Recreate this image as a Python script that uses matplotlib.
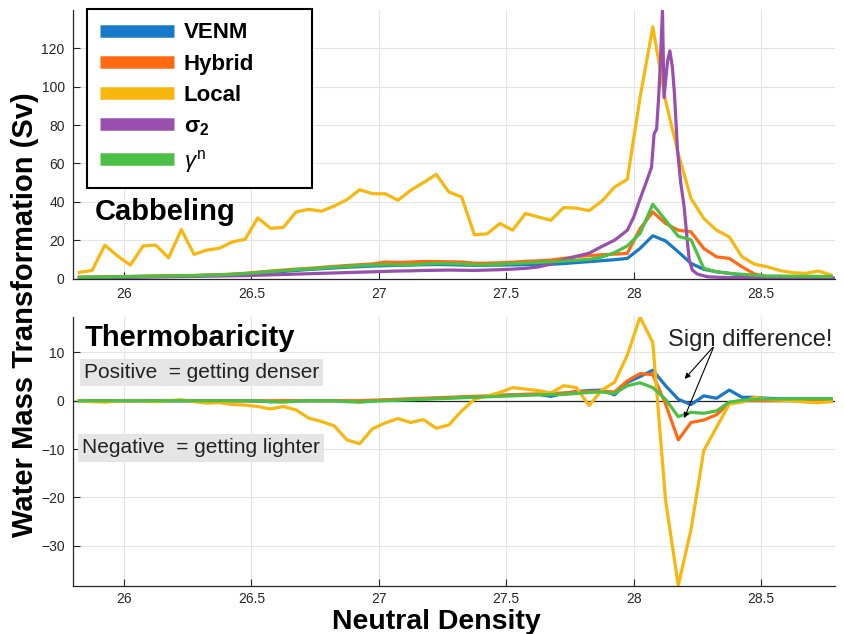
import matplotlib
matplotlib.use('Agg')
import matplotlib.pyplot as plt
from matplotlib.lines import Line2D
import numpy as np

plt.rcParams['font.family'] = ['Liberation Sans', 'DejaVu Sans']
plt.rcParams['mathtext.fontset'] = 'custom'
plt.rcParams['mathtext.rm'] = 'Liberation Sans'
plt.rcParams['mathtext.it'] = 'Liberation Sans:italic'
plt.rcParams['mathtext.bf'] = 'Liberation Sans:bold'

# neutral density bin centres (0.05 bins)
density = np.round(np.arange(25.825, 28.8, 0.05), 3)

# --- cabbeling (Sv) ---
cab_venm = [0.6, 0.7, 0.8, 0.9, 1.0, 1.1, 1.2, 1.3, 1.4, 1.5,
            1.7, 1.9, 2.1, 2.4, 2.8, 3.2, 3.7, 4.2, 4.7, 5.1,
            5.5, 5.9, 6.2, 6.5, 6.7, 6.9, 7.0, 7.2, 7.3, 7.2,
            7.0, 6.9, 6.9, 7.0, 7.1, 7.2, 7.3, 7.4, 7.8, 8.3,
            8.8, 9.3, 9.8, 10.5, 15.7, 22.3, 19.6, 13.9, 7.9, 4.8,
            3.5, 2.7, 1.7, 0.9, 0.6, 0.5, 0.4, 0.4, 0.3, 0.3]
cab_hybrid = [0.7, 0.8, 0.9, 1.0, 1.1, 1.2, 1.3, 1.4, 1.5, 1.6,
              1.8, 2.0, 2.3, 2.7, 3.3, 3.9, 4.4, 4.9, 5.3, 5.8,
              6.3, 6.8, 7.2, 7.6, 8.6, 8.4, 8.6, 8.9, 8.9, 8.7,
              8.6, 8.0, 8.0, 8.2, 8.5, 9.0, 9.2, 9.6, 10.5, 11.3,
              12.0, 12.4, 12.7, 13.1, 26.0, 34.7, 28.7, 25.2, 24.3, 15.7,
              11.3, 10.5, 6.1, 2.3, 0.9, 0.6, 0.5, 0.4, 0.4, 0.3]
cab_local = [3.2, 4.2, 17.4, 11.7, 7.0, 17.0, 17.4, 10.8, 25.5, 12.6,
             14.8, 15.8, 19.1, 20.4, 31.6, 26.2, 26.6, 34.7, 36.1, 35.1,
             37.8, 41.1, 46.3, 44.2, 44.2, 40.8, 46.0, 50.0, 54.3, 45.1,
             42.5, 22.8, 23.3, 28.7, 25.2, 33.9, 32.1, 30.4, 37.0, 36.7,
             35.4, 40.3, 47.7, 51.7, 94.4, 131.2, 92.7, 65.0, 41.7, 31.3,
             25.2, 21.7, 11.3, 7.4, 6.1, 4.1, 3.0, 2.7, 3.9, 1.8]
cab_gamma = [0.6, 0.7, 0.8, 0.9, 1.0, 1.1, 1.2, 1.3, 1.4, 1.5,
             1.7, 1.9, 2.2, 2.6, 3.1, 3.6, 4.1, 4.6, 5.0, 5.4,
             5.9, 6.3, 6.7, 7.0, 7.2, 7.1, 7.2, 7.6, 7.9, 7.8,
             7.6, 7.2, 7.2, 7.5, 7.8, 8.1, 8.4, 8.8, 9.1, 9.5,
             10.0, 11.2, 13.5, 17.0, 23.5, 38.7, 30.4, 22.0, 20.2, 5.3,
             3.5, 2.7, 2.2, 1.7, 1.3, 1.3, 1.2, 1.2, 1.1, 1.1]

# sigma_2 is on a finer grid around the peak
sig2_density = [25.825, 25.875, 25.925, 25.975, 26.025, 26.075, 26.125, 26.175, 26.225, 26.275,
                26.325, 26.375, 26.425, 26.475, 26.525, 26.575, 26.625, 26.675, 26.725, 26.775,
                26.825, 26.875, 26.925, 26.975, 27.025, 27.075, 27.125, 27.175, 27.225, 27.275,
                27.325, 27.375, 27.425, 27.475, 27.525, 27.575, 27.625, 27.675, 27.725, 27.775,
                27.825, 27.875, 27.925, 27.95, 27.975, 28.0, 28.025, 28.05, 28.07, 28.08,
                28.09, 28.097, 28.104, 28.109, 28.113, 28.119, 28.133, 28.142, 28.152, 28.16,
                28.172, 28.185, 28.198, 28.21, 28.218, 28.23, 28.25, 28.29, 28.34, 28.45,
                28.6, 28.8]
cab_sig2 = [0.2, 0.3, 0.4, 0.5, 0.6, 0.7, 0.8, 0.9, 1.0, 1.1,
            1.2, 1.3, 1.4, 1.5, 1.7, 1.9, 2.1, 2.3, 2.5, 2.7,
            2.9, 3.1, 3.3, 3.5, 3.7, 3.9, 4.0, 4.2, 4.3, 4.4,
            4.3, 4.2, 4.4, 4.6, 4.9, 5.3, 6.0, 7.5, 9.8, 11.6,
            13.2, 16.7, 20.0, 22.5, 25.2, 32.0, 41.5, 50.5, 58.0, 75.4,
            78.0, 92.7, 110.0, 127.4, 139.5, 94.4, 113.5, 118.7, 110.0, 96.2,
            66.8, 49.5, 37.3, 20.0, 9.6, 4.4, 2.3, 0.9, 0.6, 0.4,
            0.3, 0.3]

# --- thermobaricity (Sv) ---
tb_venm = [0, 0, 0, 0, 0, 0, 0, 0, 0, 0,
           0, 0, 0, 0, -0.1, -0.2, -0.1, 0, 0, 0,
           0, -0.1, -0.2, 0, 0.1, 0.2, 0.3, 0.4, 0.5, 0.6,
           0.7, 0.8, 0.9, 1.1, 1.2, 1.3, 1.3, 0.9, 1.5, 1.9,
           2.1, 2.2, 1.2, 3.8, 5.0, 6.3, 3.1, 0.3, -0.8, 1.0,
           0.5, 2.2, 0.7, 0.7, 0.5, 0.4, 0.4, 0.4, 0.4, 0.4]
tb_hybrid = [0, 0, 0, 0, 0, 0, 0, 0, 0, 0,
             0, 0, 0, 0, 0, 0, 0, 0, 0, 0,
             0, 0, 0, 0.1, 0.2, 0.3, 0.4, 0.5, 0.6, 0.7,
             0.8, 0.9, 1.0, 1.1, 1.2, 1.3, 1.4, 1.5, 1.6, 1.8,
             1.9, 2.0, 1.8, 4.1, 5.6, 5.4, -0.7, -8.1, -4.5, -4.0,
             -2.9, -0.5, 0.0, 0.0, 0.0, 0.0, 0.0, 0.0, 0.0, 0.0]
tb_local = [0, -0.2, -0.3, -0.1, 0, -0.1, -0.2, 0, 0.2, -0.2,
            -0.5, -0.4, -0.8, -0.9, -1.2, -1.7, -1.2, -1.9, -3.6, -4.3,
            -5.2, -8.1, -8.9, -5.8, -4.6, -3.7, -4.5, -3.9, -5.7, -5.0,
            -2.1, 0.3, 1.0, 1.7, 2.7, 2.4, 2.1, 1.6, 3.1, 2.7,
            -1.0, 2.2, 3.8, 9.4, 17.3, 12.0, -20.6, -38.2, -26.6, -10.3,
            -5.5, -0.7, -0.3, 0.7, 0.3, 0.1, 0.0, -0.3, -0.4, -0.2]
tb_gamma = [0, 0, 0, 0, 0, 0, 0, 0, 0, 0,
            0, 0, 0, 0, 0, -0.2, -0.3, -0.1, 0, 0,
            0, -0.2, -0.3, -0.1, 0, 0.1, 0.2, 0.3, 0.4, 0.5,
            0.6, 0.7, 0.8, 0.9, 1.0, 1.1, 1.2, 1.3, 1.3, 1.5,
            1.7, 1.8, 1.5, 3.1, 3.7, 2.7, 0.3, -3.3, -2.4, -2.6,
            -2.1, -0.3, 0.1, 0.3, 0.35, 0.35, 0.4, 0.4, 0.4, 0.4]

labels = ['VENM', 'Hybrid', 'Local', r'σ$_\mathbf{2}$', r'$\gamma^\mathrm{n}$']
colors = ['#1979c9', '#ff6a13', '#f8b70e', '#984fae', '#4cc045']

fig = plt.figure(figsize=(8.45, 6.34), dpi=100)
ax1 = fig.add_axes([0.0864, 0.5607, 0.9018, 0.4235])
ax2 = fig.add_axes([0.0864, 0.0757, 0.9018, 0.4243])

lw = 2.3
ax1.plot(density, cab_venm, color=colors[0], lw=lw)
ax1.plot(density, cab_hybrid, color=colors[1], lw=lw)
ax1.plot(density, cab_local, color=colors[2], lw=lw)
ax1.plot(sig2_density, cab_sig2, color=colors[3], lw=lw)
ax1.plot(density, cab_gamma, color=colors[4], lw=lw)

ax2.axhline(0, color='#222222', lw=0.9, zorder=1.5)
ax2.plot(density, tb_venm, color=colors[0], lw=lw)
ax2.plot(density, tb_hybrid, color=colors[1], lw=lw)
ax2.plot(density, tb_local, color=colors[2], lw=lw)
ax2.plot(density, tb_gamma, color=colors[4], lw=lw)

ax1.set_ylim(0, 140)
ax1.set_yticks(np.arange(0, 121, 20))
ax2.set_ylim(-38.3, 17.3)
ax2.set_yticks([-30, -20, -10, 0, 10])

for ax in (ax1, ax2):
    ax.set_xlim(25.8, 28.79)
    ax.set_xticks([26, 26.5, 27, 27.5, 28, 28.5])
    ax.set_xticklabels(['26', '26.5', '27', '27.5', '28', '28.5'])
    ax.grid(True, color='#e4e4e4', lw=0.8)
    ax.set_axisbelow(True)
    for side in ('top', 'right'):
        ax.spines[side].set_visible(False)
    for side in ('left', 'bottom'):
        ax.spines[side].set_color('#262626')
        ax.spines[side].set_linewidth(0.9)
    ax.tick_params(direction='in', length=5, width=0.8, colors='#262626',
                   labelsize=10, pad=6)
ax2.tick_params(axis='x', pad=4)

# legend
handles = [Line2D([], [], color=c, lw=9, solid_capstyle='butt') for c in colors]
leg = ax1.legend(handles, labels, loc='upper left', mode='expand',
                 bbox_to_anchor=(87 / 845, 1 - 185 / 634, 225 / 845, 176 / 634),
                 bbox_transform=fig.transFigure, borderaxespad=0,
                 prop={'weight': 'bold', 'size': 16}, handlelength=3.3,
                 handletextpad=0.45, labelspacing=0.46, borderpad=0.6,
                 fancybox=False, framealpha=1, edgecolor='black')
leg.get_frame().set_linewidth(1.5)

ax1.text(25.886, 30.4, 'Cabbeling', fontsize=21, fontweight='bold', va='baseline')
ax2.text(25.847, 11.3, 'Thermobaricity', fontsize=21, fontweight='bold', va='baseline')

box = dict(facecolor='#e5e5e5', edgecolor='none', pad=3)
ax2.text(25.843, 4.7, 'Positive  = getting denser', fontsize=15, va='baseline',
         color='#222222', bbox=box)
ax2.text(25.835, -10.9, 'Negative  = getting lighter', fontsize=15, va='baseline',
         color='#222222', bbox=box)

ax2.text(28.134, 11.3, 'Sign difference!', fontsize=17, va='baseline', color='#222222')
arrow = dict(arrowstyle='-|>', color='black', lw=0.8, mutation_scale=8,
             shrinkA=0, shrinkB=0)
ax2.annotate('', xy=(28.200, 4.5), xytext=(28.31, 11.0), arrowprops=arrow)
ax2.annotate('', xy=(28.198, -3.6), xytext=(28.313, 11.0), arrowprops=arrow)

fig.text(0.029, 0.503, 'Water Mass Transformation (Sv)', rotation=90,
         fontsize=21, fontweight='bold', ha='center', va='center')
fig.text(0.516, 0.008, 'Neutral Density', fontsize=20.5, fontweight='bold',
         ha='center', va='baseline')

fig.savefig('out.png', dpi=100)
